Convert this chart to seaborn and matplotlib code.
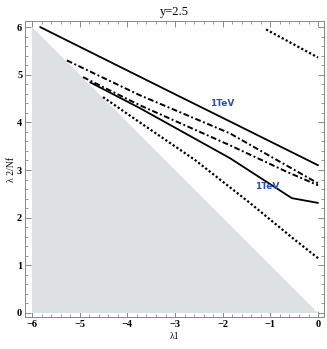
import matplotlib
matplotlib.use("Agg")
import matplotlib.pyplot as plt
import seaborn as sns
import pandas as pd
import numpy as np
from matplotlib.ticker import MultipleLocator

sns.set_theme(style="white")
plt.rcParams['font.family'] = ['Liberation Serif', 'DejaVu Serif']

title = "y=2.5"
xlabel = "λ1"
ylabel = "λ 2/Nf"

# excluded region (grey triangle)
tri_x = [-6, -6, 0]
tri_y = [6, 0, 0]

# contours
solid_up_x = [-5.83, -3.06, -1.85, 0.0]
solid_up_y = [6.00, 4.62, 4.02, 3.10]

dashdot_up_x = [-5.27, -3.74, -1.85, 0.0]
dashdot_up_y = [5.30, 4.57, 3.77, 2.72]

dashdot_lo_x = [-4.93, -3.74, -1.85, -0.65, 0.0]
dashdot_lo_y = [4.95, 4.36, 3.52, 2.96, 2.68]

solid_lo_x = [-4.78, -3.74, -1.85, -0.55, 0.0]
solid_lo_y = [4.84, 4.30, 3.25, 2.41, 2.31]

dot_lo_x = [-4.51, -3.74, -2.58, -1.43, -0.53, 0.0]
dot_lo_y = [4.53, 4.00, 3.21, 2.31, 1.57, 1.15]

dot_up_x = [-1.09, 0.0]
dot_up_y = [5.95, 5.36]

label_text = ["1TeV", "1TeV"]
label_x = [-2.02, -1.07]
label_y = [4.40, 2.66]

fig = plt.figure(figsize=(3.27, 3.49), dpi=100)
ax = fig.add_axes([0.0765, 0.0917, 0.9145, 0.848])

ax.fill(tri_x, tri_y, color="#dde1e1", lw=0, zorder=1)

lines = [
    (solid_up_x, solid_up_y, "-", 1.3),
    (dashdot_up_x, dashdot_up_y, (0, (3, 1.3, 1, 1.3)), 1.4),
    (dashdot_lo_x, dashdot_lo_y, (0, (3, 1.3, 1, 1.3)), 1.4),
    (solid_lo_x, solid_lo_y, "-", 1.3),
    (dot_lo_x, dot_lo_y, (0, (1, 1)), 1.6),
    (dot_up_x, dot_up_y, (0, (1, 1)), 1.6),
]
for xs, ys, ls, lw in lines:
    df = pd.DataFrame({"x": xs, "y": ys})
    sns.lineplot(data=df, x="x", y="y", ax=ax, color="black", lw=lw,
                 linestyle=ls, sort=False, estimator=None, zorder=3)

for t, x, y in zip(label_text, label_x, label_y):
    ax.text(x, y, t, color="#2b4fb3", fontsize=6.5, fontweight="bold",
            family=["DejaVu Sans"], ha="center", va="center", zorder=4)

ax.set_xlim(-6.147, 0.126)
ax.set_ylim(-0.084, 6.126)
ax.xaxis.set_major_locator(MultipleLocator(1))
ax.yaxis.set_major_locator(MultipleLocator(1))
ax.xaxis.set_minor_locator(MultipleLocator(0.2))
ax.yaxis.set_minor_locator(MultipleLocator(0.2))
ax.tick_params(which="both", direction="in", top=True, right=True,
               bottom=True, left=True, color="#888888", labelsize=7.5, pad=2,
               labelcolor="black")
ax.tick_params(which="major", length=4, width=0.7)
ax.tick_params(which="minor", length=2, width=0.6)
for lab in ax.get_xticklabels() + ax.get_yticklabels():
    lab.set_fontweight("bold")
for s in ax.spines.values():
    s.set_color("#888888")
    s.set_linewidth(0.7)

ax.set_xlabel(xlabel, fontsize=7, labelpad=2, color="black")
ax.set_ylabel(ylabel, fontsize=7, labelpad=1, color="black")
ax.set_title(title, fontsize=9, pad=4, color="black")

fig.savefig("out.png", dpi=100)
